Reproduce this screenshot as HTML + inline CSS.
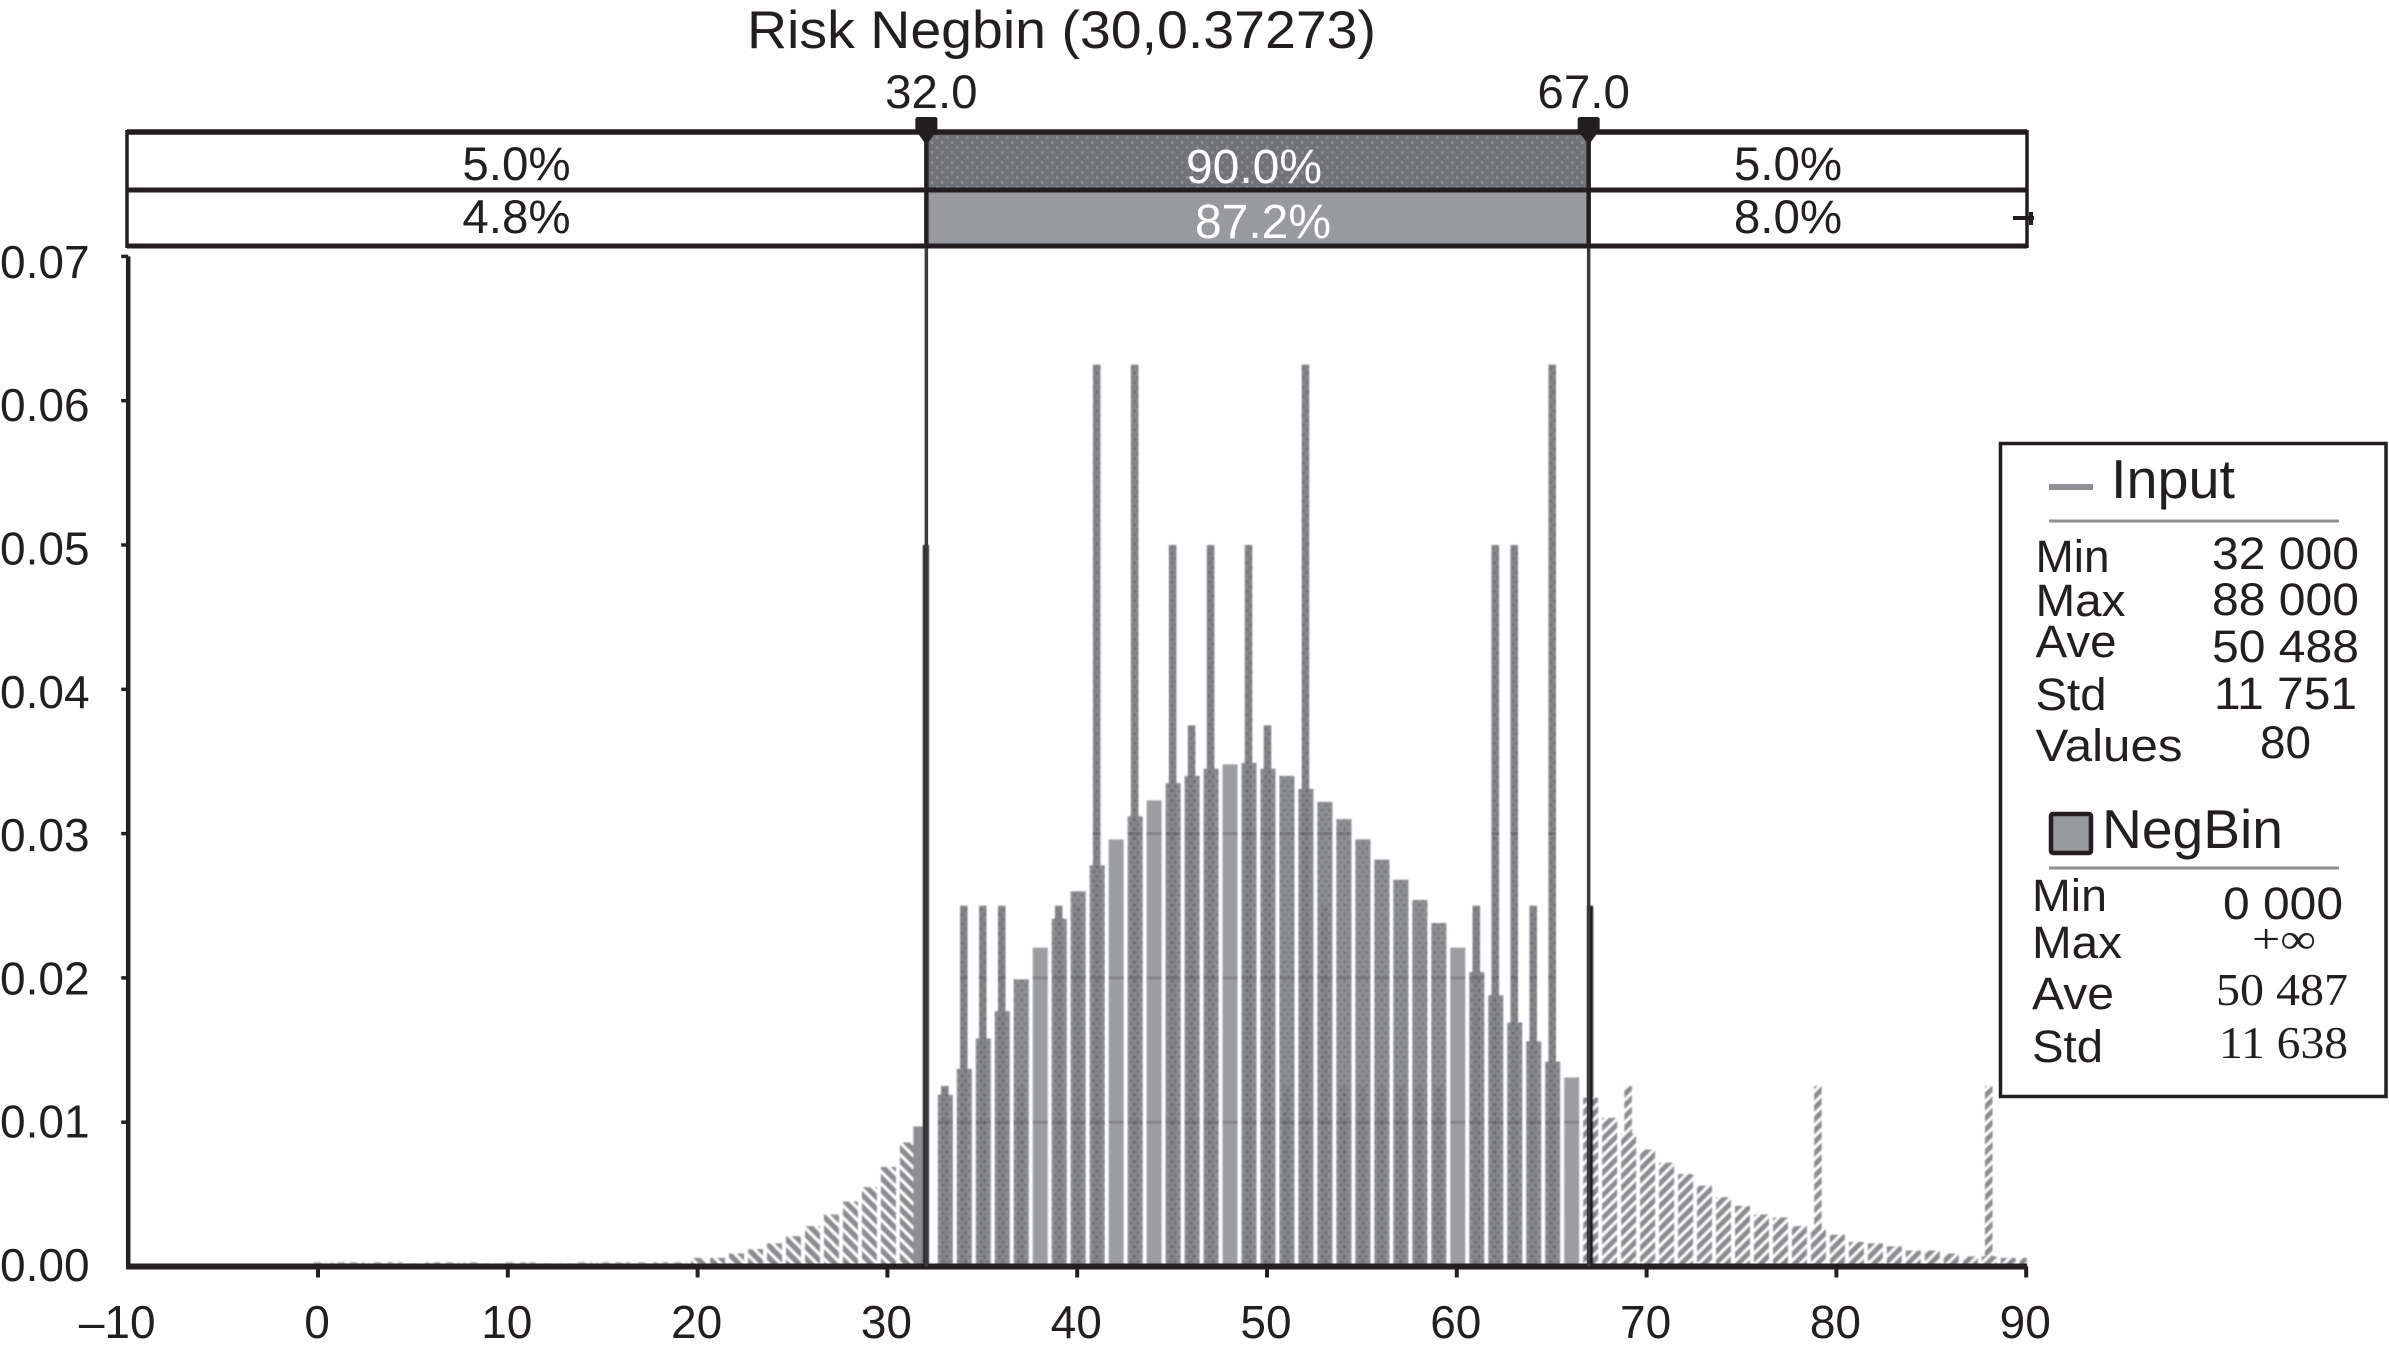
<!DOCTYPE html>
<html lang="en">
<head>
<meta charset="utf-8">
<title>Risk Negbin (30,0.37273)</title>
<style>
html,body{margin:0;padding:0;background:#fff;}
svg{display:block;}
text{font-family:"Liberation Sans",sans-serif;fill:#231f20;}
</style>
</head>
<body>
<svg id="chart" xmlns="http://www.w3.org/2000/svg" width="2389" height="1351" viewBox="0 0 2389 1351">
  <defs>
    <pattern id="hatch-left" width="8.5" height="8.5" patternUnits="userSpaceOnUse" patternTransform="rotate(-45)">
      <rect width="8.5" height="8.5" fill="#fff"/>
      <rect width="5.6" height="8.5" fill="#8b8c90"/>
    </pattern>
    <pattern id="hatch-right" width="8" height="8" patternUnits="userSpaceOnUse" patternTransform="rotate(45)">
      <rect width="8" height="8" fill="#fff"/>
      <rect width="5.2" height="8" fill="#8b8c90"/>
    </pattern>
    <pattern id="dots" width="7.5" height="9.5" patternUnits="userSpaceOnUse">
      <circle cx="2" cy="2.5" r="1.4" fill="#55565a" fill-opacity="0.45"/>
      <circle cx="5.7" cy="7.2" r="1.3" fill="#55565a" fill-opacity="0.4"/>
    </pattern>
    <pattern id="band-stipple" width="10" height="10" patternUnits="userSpaceOnUse">
      <rect width="10" height="10" fill="#727376"/>
      <rect x="1" y="1" width="2.5" height="3" fill="#8a8b8e"/>
      <rect x="6" y="6" width="2.5" height="3" fill="#8a8b8e"/>
    </pattern>
    <filter id="soft" x="-2%" y="-2%" width="104%" height="104%">
      <feGaussianBlur stdDeviation="0.7"/>
    </filter>
  </defs>

  <text x="747" y="48" font-size="53" textLength="629" lengthAdjust="spacingAndGlyphs">Risk Negbin (30,0.37273)</text>

  <g id="bands"></g>
  <g id="bars" filter="url(#soft)"></g>
  <g id="grid-overlay"></g>
  <g id="axes"></g>
  <g id="cutoffs"></g>

  <path d="M2013 218H2034 M2031 212V225" stroke="#231f20" stroke-width="4" fill="none"/>

  <g>
    <rect x="2000.500" y="443.500" width="385.500" height="653" fill="#fff" stroke="#231f20" stroke-width="3.500"/>

    <rect x="2049" y="484" width="44" height="6" fill="#8f9094"/>
    <text x="2111" y="498" font-size="55" textLength="124" lengthAdjust="spacingAndGlyphs">Input</text>
    <line x1="2049" y1="521" x2="2339" y2="521" stroke="#8f9094" stroke-width="3"/>
    <g font-size="45">
      <text x="2035.500" y="572" textLength="74" lengthAdjust="spacingAndGlyphs">Min</text>
      <text x="2035.500" y="616" textLength="90" lengthAdjust="spacingAndGlyphs">Max</text>
      <text x="2035.500" y="657" textLength="81" lengthAdjust="spacingAndGlyphs">Ave</text>
      <text x="2035.500" y="710" textLength="71" lengthAdjust="spacingAndGlyphs">Std</text>
      <text x="2035.500" y="761" textLength="147" lengthAdjust="spacingAndGlyphs">Values</text>
      <text x="2212" y="569" textLength="147" lengthAdjust="spacingAndGlyphs">32 000</text>
      <text x="2212" y="615" textLength="147" lengthAdjust="spacingAndGlyphs">88 000</text>
      <text x="2212" y="662" textLength="147" lengthAdjust="spacingAndGlyphs">50 488</text>
      <text x="2214" y="709" textLength="143" lengthAdjust="spacingAndGlyphs">11 751</text>
      <text x="2260" y="758" textLength="51" lengthAdjust="spacingAndGlyphs">80</text>
    </g>

    <rect x="2051" y="814" width="40" height="39" rx="2" fill="#98999c" stroke="#231f20" stroke-width="4.500"/>
    <text x="2102" y="848" font-size="55" textLength="181" lengthAdjust="spacingAndGlyphs">NegBin</text>
    <line x1="2049" y1="868" x2="2339" y2="868" stroke="#8f9094" stroke-width="3"/>
    <g font-size="45">
      <text x="2032" y="911" textLength="75" lengthAdjust="spacingAndGlyphs">Min</text>
      <text x="2032" y="958" textLength="90" lengthAdjust="spacingAndGlyphs">Max</text>
      <text x="2032" y="1009" textLength="82" lengthAdjust="spacingAndGlyphs">Ave</text>
      <text x="2032" y="1062" textLength="71" lengthAdjust="spacingAndGlyphs">Std</text>
      <text x="2223" y="919" textLength="120" lengthAdjust="spacingAndGlyphs">0 000</text>
      <text x="2252" y="953" font-size="42" textLength="64" lengthAdjust="spacingAndGlyphs" style="font-family:'Liberation Serif',serif">+∞</text>
      <text x="2216" y="1005" textLength="132" lengthAdjust="spacingAndGlyphs" style="font-family:'Liberation Serif',serif">50 487</text>
      <text x="2219" y="1058" textLength="129" lengthAdjust="spacingAndGlyphs" style="font-family:'Liberation Serif',serif">11 638</text>
    </g>
  </g>
</svg>

<script>
var categories = [0,1,2,3,4,5,6,7,8,9,10,11,12,13,14,15,16,17,18,19,20,21,22,23,24,25,26,27,28,29,30,31,32,33,34,35,36,37,38,39,40,41,42,43,44,45,46,47,48,49,50,51,52,53,54,55,56,57,58,59,60,61,62,63,64,65,66,67,68,69,70,71,72,73,74,75,76,77,78,79,80,81,82,83,84,85,86,87,88,89,90];

var negbinValues = [
  0.0003,0.0003,0.0003,0.0003,0.0003,0.0002,0.0003,0.0003,0.0003,0.0002,
  0.0003,0.0003,0.0002,0.0002,0.0003,0.0003,0.0003,0.0003,0.0003,0.0003,
  0.0006,0.0006,0.0009,0.0012,0.0016,0.0021,0.0028,0.0036,0.0045,0.0055,
  0.0069,0.0086,0.0097,0.0119,0.0137,0.0158,0.0177,0.0199,0.0221,0.0241,
  0.0260,0.0278,0.0296,0.0312,0.0323,0.0335,0.0340,0.0345,0.0348,0.0349,
  0.0345,0.0340,0.0331,0.0322,0.0310,0.0296,0.0282,0.0268,0.0254,0.0238,
  0.0221,0.0204,0.0188,0.0169,0.0156,0.0142,0.0131,0.0117,0.0103,0.0092,
  0.0081,0.0072,0.0064,0.0056,0.0048,0.0042,0.0036,0.0034,0.0028,0.0026,
  0.0022,0.0017,0.0016,0.0014,0.0011,0.0011,0.0009,0.0007,0.0007,0.0006,0.0006
];

var inputValues = [
  0,0,0,0,0,0,0,0,0,0,
  0,0,0,0,0,0,0,0,0,0,
  0,0,0,0,0,0,0,0,0,0,
  0,0,0.05,0.0125,0.025,0.025,0.025,0.0125,0,0.025,
  0.025,0.0625,0,0.0625,0,0.05,0.0375,0.05,0,0.05,
  0.0375,0.0125,0.0625,0.025,0.0125,0.0125,0.0125,0.0125,0.0125,0.0125,
  0,0.025,0.05,0.05,0.025,0.0625,0,0.025,0,0.0125,
  0,0,0,0,0,0,0,0,0,0.0125,
  0,0,0,0,0,0,0,0,0.0125,0,0
];

var xTickValues = [-10,0,10,20,30,40,50,60,70,80,90];
var xTickLabels = ["\u201310","0","10","20","30","40","50","60","70","80","90"];
var yTickValues = [0,0.01,0.02,0.03,0.04,0.05,0.06,0.07];
var yTickLabels = ["0.00","0.01","0.02","0.03","0.04","0.05","0.06","0.07"];
var gridLevels = [0.01,0.02,0.03];
var cutoffValues = [32,67];
var cutoffLabels = ["32.0","67.0"];
var inputBandLabels = ["5.0%","90.0%","5.0%"];
var fitBandLabels = ["4.8%","87.2%","8.0%"];

function xScale(v){ return 318 + 18.98 * v; }
function yScale(p){ return 1266.5 - 14430 * p; }
function yLabelScale(p){ return 1281 - 14330 * p; }

var NS = "http://www.w3.org/2000/svg";
function mk(tag, attrs, parent){
  var el = document.createElementNS(NS, tag);
  for (var k in attrs) el.setAttribute(k, attrs[k]);
  parent.appendChild(el);
  return el;
}

var bands = document.getElementById("bands");
var barsG = document.getElementById("bars");
var gridG = document.getElementById("grid-overlay");
var axesG = document.getElementById("axes");
var cutG = document.getElementById("cutoffs");

/* ---------- bars and input spikes ---------- */
var lo = cutoffValues[0], hi = cutoffValues[1];
var BAR_W = 15, SPIKE_W = 7.5;

categories.forEach(function(c, i){
  var p = negbinValues[i];
  var top = yScale(p);
  var h = yScale(0) - top;
  var fill, op = 1;
  if (c < lo) fill = "url(#hatch-left)";
  else if (c >= hi) fill = "url(#hatch-right)";
  else fill = inputValues[i] > 0 ? "#8d8e91" : "#9c9da0";
  if (c < 20) op = 0.75;
  var w = c === lo ? 11 : (c === categories[categories.length - 1] ? 7 : BAR_W);
  var bx = c === lo ? xScale(c) - 12 : xScale(c) - BAR_W / 2 + 1;
  var bar = mk("rect", {x: bx, y: top, width: w, height: h, fill: fill, opacity: op}, barsG);
  
  

  var q = inputValues[i];
  if (q > 0) {
    var isCut = (c === lo || c === hi);
    var tail = (c > hi);
    var spikeTop = yScale(q);
    var spikeW = isCut ? 6 : SPIKE_W;
    var spikeFill = isCut ? "#17171a" : (tail ? "url(#hatch-right)" : "#838488");
    var spike = mk("rect", {x: xScale(c) - spikeW / 2 + (isCut ? 0.5 : 0.5), y: spikeTop, width: spikeW, height: yScale(0) - spikeTop, fill: spikeFill}, barsG);
    
    
    if (!isCut && !tail) {
      var sd = mk("rect", {x: xScale(c) - spikeW / 2 + 0.5, y: spikeTop, width: spikeW, height: yScale(0) - spikeTop, fill: "url(#dots)"}, barsG);
      
      
      var bd = mk("rect", {x: bx, y: top, width: w, height: h, fill: "url(#dots)"}, barsG);
      
      
    }
  }
});

/* ---------- gridlines only show through the bars ---------- */
gridLevels.forEach(function(level){
  categories.forEach(function(c, i){
    if (c > lo && c < hi && (negbinValues[i] > level || inputValues[i] > level)) {
      var full = negbinValues[i] > level;
      var gw = full ? BAR_W : SPIKE_W;
      var gx = full ? xScale(c) - BAR_W / 2 + 1 : xScale(c) - SPIKE_W / 2 + 0.5;
      var g = mk("rect", {x: gx, y: yScale(level) - 1.5, width: gw, height: 3, fill: "#3a3a3e", opacity: 0.22}, gridG);
      
      
    }
  });
});

/* ---------- axes ---------- */
var yAxis = mk("line", {x1: xScale(-10), y1: yScale(0.07), x2: xScale(-10), y2: yScale(0) + 2, stroke: "#231f20", "stroke-width": 4.5}, axesG);


var xAxis = mk("line", {x1: xScale(-10) - 2, y1: yScale(0), x2: xScale(90) + 1, y2: yScale(0), stroke: "#231f20", "stroke-width": 6}, axesG);



xTickValues.forEach(function(v, i){
  if (v > -10) {
    var t = mk("line", {x1: xScale(v), y1: yScale(0), x2: xScale(v), y2: yScale(0) + 11, stroke: "#231f20", "stroke-width": 4}, axesG);
    
    
  }
  var lx = v === -10 ? xScale(v) - 11 : xScale(v) - 1;
  var tx = mk("text", {x: lx, y: 1338, "font-size": 46, "text-anchor": "middle"}, axesG);
  tx.textContent = xTickLabels[i];
  
  
});

yTickValues.forEach(function(v, i){
  if (v > 0) {
    var t = mk("line", {x1: xScale(-10) - 7, y1: yScale(v), x2: xScale(-10), y2: yScale(v), stroke: "#231f20", "stroke-width": 3.5}, axesG);
    
    
  }
  var tx = mk("text", {x: 0, y: yLabelScale(v), "font-size": 46}, axesG);
  tx.textContent = yTickLabels[i];
  
  
});

/* ---------- statistics bands ---------- */
var bLeft = 127, bRight = 2027, rowTop = [130, 190], rowBottom = [190, 246];
var divL = xScale(lo) + 1.5, divR = xScale(hi) - 1;

var bg = mk("rect", {x: bLeft, y: 130, width: bRight - bLeft, height: 116, fill: "#fff"}, bands);


var midTop = mk("rect", {x: divL, y: rowTop[0], width: divR - divL, height: rowBottom[0] - rowTop[0], fill: "url(#band-stipple)"}, bands);


var midBottom = mk("rect", {x: divL, y: rowTop[1], width: divR - divL, height: rowBottom[1] - rowTop[1], fill: "#999a9d"}, bands);



var hLines = [[132, 5.5, bLeft, bRight], [190, 5, bLeft, bRight], [246, 5, bLeft, bRight]];
hLines.forEach(function(l){
  var e = mk("line", {x1: l[2], y1: l[0], x2: l[3], y2: l[0], stroke: "#231f20", "stroke-width": l[1]}, bands);
  
  
});
[bLeft, bRight].forEach(function(px){
  var e = mk("line", {x1: px, y1: 130, x2: px, y2: 248, stroke: "#231f20", "stroke-width": 3.5}, bands);
  
  
});

var centersTop = [516.5, 1254, 1788], centersBottom = [516.5, 1263, 1788];
var baseTop = [180, 183, 180], baseBottom = [233, 238, 233];
inputBandLabels.forEach(function(s, i){
  var t = mk("text", {x: centersTop[i], y: baseTop[i], "font-size": i === 1 ? 48 : 47.5, "text-anchor": "middle"}, bands);
  if (i === 1) t.setAttribute("style", "fill:#fff");
  t.textContent = s;
  
  
});
fitBandLabels.forEach(function(s, i){
  var t = mk("text", {x: centersBottom[i], y: baseBottom[i], "font-size": i === 1 ? 48 : 47.5, "text-anchor": "middle"}, bands);
  if (i === 1) t.setAttribute("style", "fill:#fff");
  t.textContent = s;
  
  
});

/* ---------- cutoff lines and draggable markers ---------- */
cutoffValues.forEach(function(v, i){
  var cx = v === lo ? divL - 0.5 : divR;
  var line = mk("line", {x1: cx, y1: 130, x2: cx, y2: yScale(0), stroke: "#3a3a3d", "stroke-width": 3.5}, cutG);
  
  
  var divider = mk("line", {x1: cx, y1: 130, x2: cx, y2: 248, stroke: "#231f20", "stroke-width": 4.5}, cutG);
  
  
  var marker = mk("path", {d: "M" + (cx - 11) + " 119 Q" + (cx - 11) + " 117 " + (cx - 8) + " 117 H" + (cx + 8) + " Q" + (cx + 11) + " 117 " + (cx + 11) + " 119 V130 L" + cx + " 145 L" + (cx - 11) + " 130 Z", fill: "#231f20"}, cutG);
  
  
  var t = mk("text", {x: cx + 5 - (i === 0 ? 0 : 10), y: 108, "font-size": 47.5, "text-anchor": "middle"}, cutG);
  t.textContent = cutoffLabels[i];
  
  
});
</script>
</body>
</html>
